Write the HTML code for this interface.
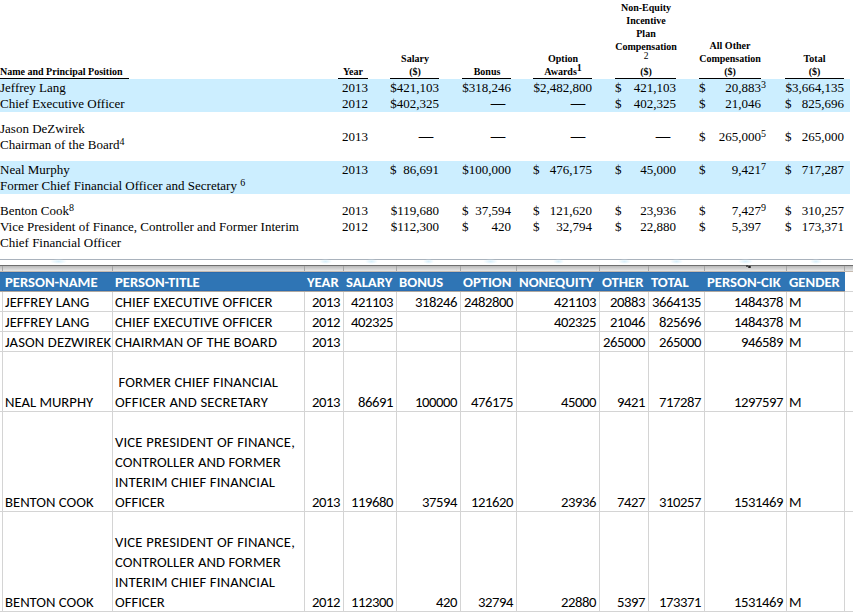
<!DOCTYPE html>
<html><head><meta charset="utf-8">
<style>
html,body{margin:0;padding:0;background:#fff}
body{width:853px;height:612px;position:relative;overflow:hidden}
.a{position:absolute;white-space:nowrap}
.s{font-family:"Liberation Serif","Times New Roman",serif;font-size:13px;line-height:16px;color:#000}
.r{text-align:right}
.d{-webkit-text-stroke:0.4px #000;transform:scaleX(1.08);transform-origin:100% 50%}
.h{font-family:"Liberation Serif","Times New Roman",serif;font-weight:bold;font-size:10px;line-height:13px;color:#000;text-align:center}
.u{position:absolute;height:1px;background:#000;top:78px}
.bb{position:absolute;left:0;width:850px;background:#cceeff}
sup.f{font-size:10px;line-height:0;vertical-align:4px}
sup.m{margin-right:-5px}
.x{font-family:Carlito,"Liberation Sans",sans-serif;font-size:14.67px;line-height:20px;color:#000;font-size-adjust:0.4775}
.xh{font-family:Carlito,"Liberation Sans",sans-serif;font-size:14.67px;line-height:20px;font-weight:bold;color:#fff;font-size-adjust:0.4849}
.gv{position:absolute;width:1px;background:#d4d4d4}
.n{letter-spacing:-0.42px}
.gh{position:absolute;height:1px;background:#d4d4d4;left:0;width:853px}
</style></head><body>

<!-- ===== TOP: SEC TABLE ===== -->
<div class="bb" style="top:79px;height:33px"></div>
<div class="bb" style="top:161px;height:33px"></div>

<!-- header -->
<div class="a h" style="left:0;top:65px;text-align:left">Name and Principal Position</div>
<div class="u" style="left:0;width:129px"></div>

<div class="a h" style="left:338px;width:30px;top:65px">Year</div>
<div class="u" style="left:338px;width:30px"></div>

<div class="a h" style="left:390px;width:50px;top:52px">Salary</div>
<div class="a h" style="left:390px;width:50px;top:65px">($)</div>
<div class="u" style="left:390px;width:49px"></div>

<div class="a h" style="left:462px;width:50px;top:65px">Bonus</div>
<div class="u" style="left:462px;width:49px"></div>

<div class="a h" style="left:533px;width:60px;top:52px">Option</div>
<div class="a h" style="left:533px;width:60px;top:65px">Awards<sup class="f" style="font-size:10px;vertical-align:4px">1</sup></div>
<div class="u" style="left:533px;width:59px"></div>

<div class="a h" style="left:615px;width:62px;top:1px">Non-Equity</div>
<div class="a h" style="left:615px;width:62px;top:14px">Incentive</div>
<div class="a h" style="left:615px;width:62px;top:27px">Plan</div>
<div class="a h" style="left:615px;width:62px;top:40px">Compensation</div>
<div class="a h" style="left:615px;width:62px;top:50px;font-size:9.5px;font-weight:normal">2</div>
<div class="a h" style="left:615px;width:62px;top:65px">($)</div>
<div class="u" style="left:615px;width:61px"></div>

<div class="a h" style="left:699px;width:62px;top:39px">All Other</div>
<div class="a h" style="left:699px;width:62px;top:52px">Compensation</div>
<div class="a h" style="left:699px;width:62px;top:65px">($)</div>
<div class="u" style="left:699px;width:62px"></div>

<div class="a h" style="left:785px;width:59px;top:52px">Total</div>
<div class="a h" style="left:785px;width:59px;top:65px">($)</div>
<div class="u" style="left:785px;width:59px"></div>

<!-- row 1 Jeffrey -->
<div class="a s" style="left:0;top:80px">Jeffrey Lang</div>
<div class="a s" style="left:0;top:96px">Chief Executive Officer</div>
<div class="a s r" style="right:485px;top:80px">2013</div>
<div class="a s r" style="right:485px;top:96px">2012</div>
<div class="a s r" style="right:414px;top:80px">$421,103</div>
<div class="a s r" style="right:414px;top:96px">$402,325</div>
<div class="a s r" style="right:342px;top:80px">$318,246</div>
<div class="a s r d" style="right:348px;top:95px">&#8212;</div>
<div class="a s r" style="right:261px;top:80px">$2,482,800</div>
<div class="a s r d" style="right:268px;top:95px">&#8212;</div>
<div class="a s" style="left:615px;top:80px">$</div>
<div class="a s r" style="right:177px;top:80px">421,103</div>
<div class="a s" style="left:615px;top:96px">$</div>
<div class="a s r" style="right:177px;top:96px">402,325</div>
<div class="a s" style="left:699px;top:80px">$</div>
<div class="a s r" style="right:92px;top:80px">20,883<sup class="f m">3</sup></div>
<div class="a s" style="left:699px;top:96px">$</div>
<div class="a s r" style="right:92px;top:96px">21,046</div>
<div class="a s r" style="right:9px;top:80px">$3,664,135</div>
<div class="a s" style="left:785px;top:96px">$</div>
<div class="a s r" style="right:9px;top:96px">825,696</div>

<!-- row 2 Jason -->
<div class="a s" style="left:0;top:121px">Jason DeZwirek</div>
<div class="a s" style="left:0;top:137px">Chairman of the Board<sup class="f">4</sup></div>
<div class="a s r" style="right:485px;top:129px">2013</div>
<div class="a s r d" style="right:420px;top:128px">&#8212;</div>
<div class="a s r d" style="right:348px;top:128px">&#8212;</div>
<div class="a s r d" style="right:268px;top:128px">&#8212;</div>
<div class="a s r d" style="right:183px;top:128px">&#8212;</div>
<div class="a s" style="left:699px;top:129px">$</div>
<div class="a s r" style="right:92px;top:129px">265,000<sup class="f m">5</sup></div>
<div class="a s" style="left:785px;top:129px">$</div>
<div class="a s r" style="right:9px;top:129px">265,000</div>

<!-- row 3 Neal -->
<div class="a s" style="left:0;top:162px">Neal Murphy</div>
<div class="a s" style="left:0;top:178px">Former Chief Financial Officer and Secretary <sup class="f">6</sup></div>
<div class="a s r" style="right:485px;top:162px">2013</div>
<div class="a s" style="left:390px;top:162px">$</div>
<div class="a s r" style="right:414px;top:162px">86,691</div>
<div class="a s r" style="right:342px;top:162px">$100,000</div>
<div class="a s" style="left:533px;top:162px">$</div>
<div class="a s r" style="right:261px;top:162px">476,175</div>
<div class="a s" style="left:615px;top:162px">$</div>
<div class="a s r" style="right:177px;top:162px">45,000</div>
<div class="a s" style="left:699px;top:162px">$</div>
<div class="a s r" style="right:92px;top:162px">9,421<sup class="f m">7</sup></div>
<div class="a s" style="left:785px;top:162px">$</div>
<div class="a s r" style="right:9px;top:162px">717,287</div>

<!-- row 4 Benton -->
<div class="a s" style="left:0;top:203px">Benton Cook<sup class="f">8</sup></div>
<div class="a s" style="left:0;top:219px">Vice President of Finance, Controller and Former Interim</div>
<div class="a s" style="left:0;top:235px">Chief Financial Officer</div>
<div class="a s r" style="right:485px;top:203px">2013</div>
<div class="a s r" style="right:485px;top:219px">2012</div>
<div class="a s r" style="right:414px;top:203px">$119,680</div>
<div class="a s r" style="right:414px;top:219px">$112,300</div>
<div class="a s" style="left:462px;top:203px">$</div>
<div class="a s r" style="right:342px;top:203px">37,594</div>
<div class="a s" style="left:462px;top:219px">$</div>
<div class="a s r" style="right:342px;top:219px">420</div>
<div class="a s" style="left:533px;top:203px">$</div>
<div class="a s r" style="right:261px;top:203px">121,620</div>
<div class="a s" style="left:533px;top:219px">$</div>
<div class="a s r" style="right:261px;top:219px">32,794</div>
<div class="a s" style="left:615px;top:203px">$</div>
<div class="a s r" style="right:177px;top:203px">23,936</div>
<div class="a s" style="left:615px;top:219px">$</div>
<div class="a s r" style="right:177px;top:219px">22,880</div>
<div class="a s" style="left:699px;top:203px">$</div>
<div class="a s r" style="right:92px;top:203px">7,427<sup class="f m">9</sup></div>
<div class="a s" style="left:699px;top:219px">$</div>
<div class="a s r" style="right:92px;top:219px">5,397</div>
<div class="a s" style="left:785px;top:203px">$</div>
<div class="a s r" style="right:9px;top:203px">310,257</div>
<div class="a s" style="left:785px;top:219px">$</div>
<div class="a s r" style="right:9px;top:219px">173,371</div>

<!-- ===== separator ===== -->
<div class="a" style="left:0;top:259px;width:853px;height:1px;background:#a9b2bc"></div>
<div class="a" style="left:0;top:265px;width:853px;height:1px;background:#6e6e6e"></div>
<div class="a" style="left:0;top:266px;width:853px;height:5px;background:linear-gradient(#b9b9b9,#e7e7e7)"></div>
<div class="a" style="left:0;top:271px;width:853px;height:1px;background:#c6bbb0"></div>

<div class="a" style="left:50px;top:259px;width:17px;height:5px;background:radial-gradient(ellipse at center,#d8effa 0%,rgba(216,239,250,0) 70%)"></div>
<div class="a" style="left:319px;top:259px;width:13px;height:5px;background:radial-gradient(ellipse at center,#d8effa 0%,rgba(216,239,250,0) 70%)"></div>
<div class="a" style="left:365px;top:259px;width:13px;height:5px;background:radial-gradient(ellipse at center,#d8effa 0%,rgba(216,239,250,0) 70%)"></div>
<div class="a" style="left:423px;top:259px;width:11px;height:5px;background:radial-gradient(ellipse at center,#d8effa 0%,rgba(216,239,250,0) 70%)"></div>
<div class="a" style="left:483px;top:259px;width:15px;height:5px;background:radial-gradient(ellipse at center,#d8effa 0%,rgba(216,239,250,0) 70%)"></div>
<div class="a" style="left:553px;top:259px;width:11px;height:5px;background:radial-gradient(ellipse at center,#d8effa 0%,rgba(216,239,250,0) 70%)"></div>
<div class="a" style="left:618px;top:259px;width:13px;height:5px;background:radial-gradient(ellipse at center,#d8effa 0%,rgba(216,239,250,0) 70%)"></div>
<div class="a" style="left:670px;top:259px;width:13px;height:5px;background:radial-gradient(ellipse at center,#d8effa 0%,rgba(216,239,250,0) 70%)"></div>
<div class="a" style="left:738px;top:259px;width:15px;height:5px;background:radial-gradient(ellipse at center,#d8effa 0%,rgba(216,239,250,0) 70%)"></div>
<div class="a" style="left:810px;top:259px;width:12px;height:5px;background:radial-gradient(ellipse at center,#d8effa 0%,rgba(216,239,250,0) 70%)"></div>
<div class="a" style="left:746px;top:265px;width:2px;height:2px;background:#3a3a3a;border-radius:1px"></div><div class="a" style="left:748px;top:266px;width:3px;height:2px;background:#222;border-radius:1px"></div>
<!-- ===== SPREADSHEET ===== -->
<!--SHEET-->
<div class="a" style="left:0;top:272px;width:845px;height:19px;background:#2f75b5;border-top:1px solid #2a6aad;border-bottom:1px solid #2b6cb0;box-sizing:border-box"></div>
<div class="a" style="left:0;top:291px;width:845px;height:1px;background:#b0a89f"></div>
<div class="a" style="left:845px;top:291px;width:8px;height:1px;background:#d4d4d4"></div>
<div class="a" style="left:2px;top:266px;width:1px;height:5px;background:#a6a6a6"></div>
<div class="a" style="left:112px;top:266px;width:1px;height:5px;background:#a6a6a6"></div>
<div class="a" style="left:304px;top:266px;width:1px;height:5px;background:#a6a6a6"></div>
<div class="a" style="left:343px;top:266px;width:1px;height:5px;background:#a6a6a6"></div>
<div class="a" style="left:396px;top:266px;width:1px;height:5px;background:#a6a6a6"></div>
<div class="a" style="left:460px;top:266px;width:1px;height:5px;background:#a6a6a6"></div>
<div class="a" style="left:516px;top:266px;width:1px;height:5px;background:#a6a6a6"></div>
<div class="a" style="left:599px;top:266px;width:1px;height:5px;background:#a6a6a6"></div>
<div class="a" style="left:648px;top:266px;width:1px;height:5px;background:#a6a6a6"></div>
<div class="a" style="left:704px;top:266px;width:1px;height:5px;background:#a6a6a6"></div>
<div class="a" style="left:786px;top:266px;width:1px;height:5px;background:#a6a6a6"></div>
<div class="a" style="left:844px;top:266px;width:1px;height:5px;background:#a6a6a6"></div>
<div class="gv" style="left:2px;top:292px;height:320px"></div>
<div class="gv" style="left:112px;top:292px;height:320px"></div>
<div class="gv" style="left:304px;top:292px;height:320px"></div>
<div class="gv" style="left:343px;top:292px;height:320px"></div>
<div class="gv" style="left:396px;top:292px;height:320px"></div>
<div class="gv" style="left:460px;top:292px;height:320px"></div>
<div class="gv" style="left:516px;top:292px;height:320px"></div>
<div class="gv" style="left:599px;top:292px;height:320px"></div>
<div class="gv" style="left:648px;top:292px;height:320px"></div>
<div class="gv" style="left:704px;top:292px;height:320px"></div>
<div class="gv" style="left:786px;top:292px;height:320px"></div>
<div class="gv" style="left:844px;top:292px;height:320px"></div>
<div class="gh" style="top:311px"></div>
<div class="gh" style="top:331px"></div>
<div class="gh" style="top:351px"></div>
<div class="gh" style="top:411px"></div>
<div class="gh" style="top:511px"></div>
<div class="gh" style="top:611px"></div>
<div class="a xh" style="left:5px;top:272px">PERSON-NAME</div>
<div class="a xh" style="left:115px;top:272px">PERSON-TITLE</div>
<div class="a xh" style="left:307px;top:272px">YEAR</div>
<div class="a xh" style="left:346px;top:272px">SALARY</div>
<div class="a xh" style="left:399px;top:272px">BONUS</div>
<div class="a xh" style="left:463px;top:272px">OPTION</div>
<div class="a xh" style="left:519px;top:272px">NONEQUITY</div>
<div class="a xh" style="left:602px;top:272px">OTHER</div>
<div class="a xh" style="left:651px;top:272px">TOTAL</div>
<div class="a xh" style="left:707px;top:272px">PERSON-CIK</div>
<div class="a xh" style="left:789px;top:272px">GENDER</div>
<div class="a x" style="left:5px;top:292px">JEFFREY LANG</div>
<div class="a x" style="left:115px;top:292px;letter-spacing:0.06px">CHIEF EXECUTIVE OFFICER</div>
<div class="a x n" style="right:513px;top:292px">2013</div>
<div class="a x n" style="right:460px;top:292px">421103</div>
<div class="a x n" style="right:396px;top:292px">318246</div>
<div class="a x n" style="right:340px;top:292px">2482800</div>
<div class="a x n" style="right:257px;top:292px">421103</div>
<div class="a x n" style="right:208px;top:292px">20883</div>
<div class="a x n" style="right:152px;top:292px">3664135</div>
<div class="a x n" style="right:70px;top:292px">1484378</div>
<div class="a x" style="left:789px;top:292px">M</div>
<div class="a x" style="left:5px;top:312px">JEFFREY LANG</div>
<div class="a x" style="left:115px;top:312px;letter-spacing:0.06px">CHIEF EXECUTIVE OFFICER</div>
<div class="a x n" style="right:513px;top:312px">2012</div>
<div class="a x n" style="right:460px;top:312px">402325</div>
<div class="a x n" style="right:257px;top:312px">402325</div>
<div class="a x n" style="right:208px;top:312px">21046</div>
<div class="a x n" style="right:152px;top:312px">825696</div>
<div class="a x n" style="right:70px;top:312px">1484378</div>
<div class="a x" style="left:789px;top:312px">M</div>
<div class="a x" style="left:5px;top:332px;letter-spacing:0.12px">JASON DEZWIREK</div>
<div class="a x" style="left:115px;top:332px;letter-spacing:0.08px">CHAIRMAN OF THE BOARD</div>
<div class="a x n" style="right:513px;top:332px">2013</div>
<div class="a x n" style="right:208px;top:332px">265000</div>
<div class="a x n" style="right:152px;top:332px">265000</div>
<div class="a x n" style="right:70px;top:332px">946589</div>
<div class="a x" style="left:789px;top:332px">M</div>
<div class="a x" style="left:5px;top:392px">NEAL MURPHY</div>
<div class="a x" style="left:115px;top:372px;letter-spacing:0.12px">&nbsp;FORMER CHIEF FINANCIAL</div>
<div class="a x" style="left:115px;top:392px;letter-spacing:0.17px">OFFICER AND SECRETARY</div>
<div class="a x n" style="right:513px;top:392px">2013</div>
<div class="a x n" style="right:460px;top:392px">86691</div>
<div class="a x n" style="right:396px;top:392px">100000</div>
<div class="a x n" style="right:340px;top:392px">476175</div>
<div class="a x n" style="right:257px;top:392px">45000</div>
<div class="a x n" style="right:208px;top:392px">9421</div>
<div class="a x n" style="right:152px;top:392px">717287</div>
<div class="a x n" style="right:70px;top:392px">1297597</div>
<div class="a x" style="left:789px;top:392px">M</div>
<div class="a x" style="left:5px;top:492px">BENTON COOK</div>
<div class="a x" style="left:115px;top:432px;letter-spacing:0.17px">VICE PRESIDENT OF FINANCE,</div>
<div class="a x" style="left:115px;top:452px;letter-spacing:0.06px">CONTROLLER AND FORMER</div>
<div class="a x" style="left:115px;top:472px;letter-spacing:0.145px">INTERIM CHIEF FINANCIAL</div>
<div class="a x" style="left:115px;top:492px">OFFICER</div>
<div class="a x n" style="right:513px;top:492px">2013</div>
<div class="a x n" style="right:460px;top:492px">119680</div>
<div class="a x n" style="right:396px;top:492px">37594</div>
<div class="a x n" style="right:340px;top:492px">121620</div>
<div class="a x n" style="right:257px;top:492px">23936</div>
<div class="a x n" style="right:208px;top:492px">7427</div>
<div class="a x n" style="right:152px;top:492px">310257</div>
<div class="a x n" style="right:70px;top:492px">1531469</div>
<div class="a x" style="left:789px;top:492px">M</div>
<div class="a x" style="left:5px;top:592px">BENTON COOK</div>
<div class="a x" style="left:115px;top:532px;letter-spacing:0.17px">VICE PRESIDENT OF FINANCE,</div>
<div class="a x" style="left:115px;top:552px;letter-spacing:0.06px">CONTROLLER AND FORMER</div>
<div class="a x" style="left:115px;top:572px;letter-spacing:0.145px">INTERIM CHIEF FINANCIAL</div>
<div class="a x" style="left:115px;top:592px">OFFICER</div>
<div class="a x n" style="right:513px;top:592px">2012</div>
<div class="a x n" style="right:460px;top:592px">112300</div>
<div class="a x n" style="right:396px;top:592px">420</div>
<div class="a x n" style="right:340px;top:592px">32794</div>
<div class="a x n" style="right:257px;top:592px">22880</div>
<div class="a x n" style="right:208px;top:592px">5397</div>
<div class="a x n" style="right:152px;top:592px">173371</div>
<div class="a x n" style="right:70px;top:592px">1531469</div>
<div class="a x" style="left:789px;top:592px">M</div>
<!--/SHEET-->
</body></html>
